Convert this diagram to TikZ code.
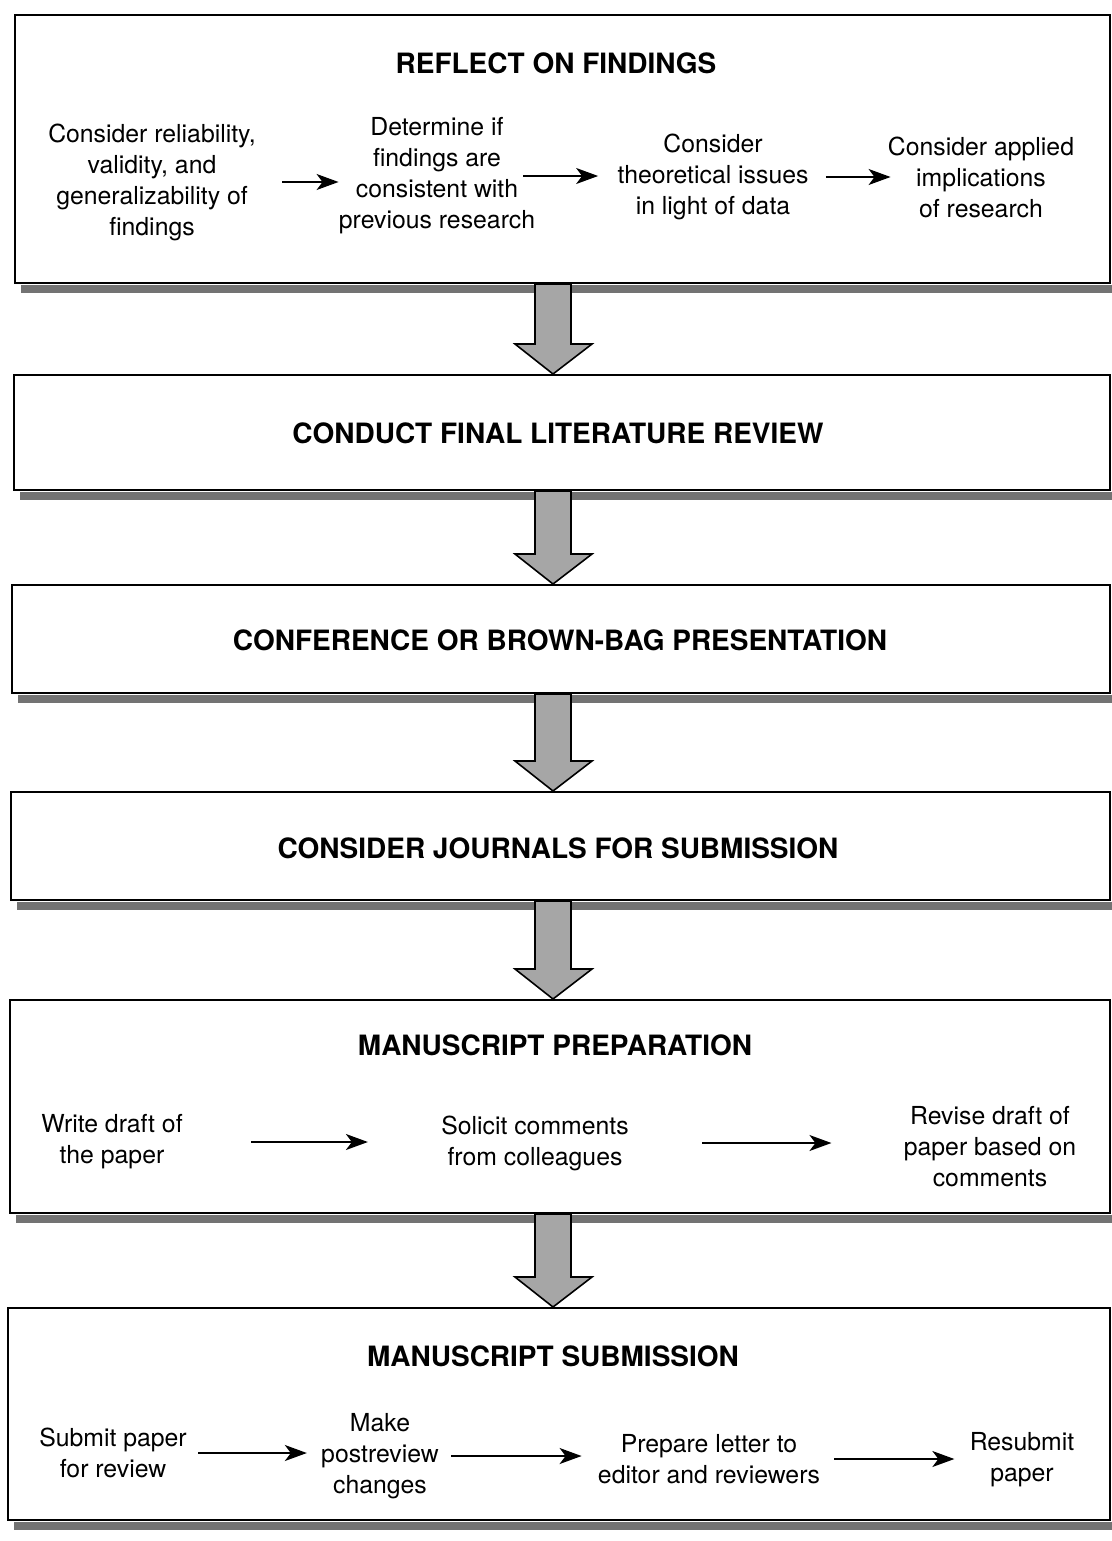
\documentclass[tikz,border=0pt]{standalone}
\usepackage{fontspec}
\setmainfont{TeX Gyre Heros}
\usetikzlibrary{arrows.meta,calc,fit}

\tikzset{
  stagebox/.style={draw, line width=1pt, inner sep=0pt},
  stagetitle/.style={font=\fontsize{14}{17}\selectfont\bfseries},
  task/.style={align=center, inner sep=0pt, font=\fontsize{12.4}{15.5}\selectfont},
  flow/.style={-{Stealth[length=11pt,width=8pt,inset=3pt]}, line width=0.8pt},
  bigarrow/.style={draw, line width=0.8pt, fill=black!35, line join=miter},
  shadowbar/.style={fill=black!55},
}

\begin{document}
\begin{tikzpicture}[x=0.5pt, y=-0.5pt]
    \useasboundingbox (0,0) rectangle (1112,1541);

    % stage boxes
    \node[stagebox, fit={(15,15) (1110,283)}] (b1) {};
    \node[stagebox, fit={(14,375) (1110,490)}] (b2) {};
    \node[stagebox, fit={(12,585) (1110,693)}] (b3) {};
    \node[stagebox, fit={(11,792) (1110,900)}] (b4) {};
    \node[stagebox, fit={(10,1000) (1110,1213)}] (b5) {};
    \node[stagebox, fit={(8,1308) (1110,1520)}] (b6) {};

    \foreach \b in {b1,b2,b3,b4,b5,b6}
        \fill[shadowbar] ($(\b.south west)+(7,1)$) rectangle ($(\b.south east)+(3,9)$);

    % block arrows between the stages
    \foreach \a/\b in {b1/b2,b2/b3,b3/b4,b4/b5,b5/b6}
        \draw[bigarrow] (\a.south -| 535,0) -- ($(\b.north -| 535,0)+(0,-30)$) -- ++(-20,0)
            -- (\b.north -| 553,0) -- ($(\b.north -| 592,0)+(0,-30)$) -- ++(-21,0)
            -- (\a.south -| 571,0) -- cycle;

    % titles
    \node[stagetitle] (h1) at (556,63) {REFLECT ON FINDINGS};
    \node[stagetitle] (h2) at (558,433) {CONDUCT FINAL LITERATURE REVIEW};
    \node[stagetitle] (h3) at (560,640) {CONFERENCE OR BROWN-BAG PRESENTATION};
    \node[stagetitle] (h4) at (558,848) {CONSIDER JOURNALS FOR SUBMISSION};
    \node[stagetitle] (h5) at (555,1045) {MANUSCRIPT PREPARATION};
    \node[stagetitle] (h6) at (553,1356) {MANUSCRIPT SUBMISSION};

    % reflect on findings
    \node[task] (r1) at (152,182) {Consider reliability,\\validity, and\\generalizability of\\findings};
    \node[task] (r2) at (437,176) {Determine if\\findings are\\consistent with\\previous research};
    \node[task] (r3) at (713,177) {Consider\\theoretical issues\\in light of data};
    \node[task] (r4) at (981,177) {Consider applied\\implications\\of research};
    \draw[flow, shorten <=13pt] (r1.east) -- (r1.east -| r2.west);
    \draw[flow, shorten <=-6pt, shorten >=9.5pt] (r2.east) -- (r2.east -| r3.west);
    \draw[flow, shorten <=8.5pt, shorten >=-1.5pt] (r3.east) -- (r3.east -| r4.west);

    % manuscript preparation
    \node[task] (p1) at (112,1142) {Write draft of\\the paper};
    \node[task] (p2) at (535,1143) {Solicit comments\\from colleagues};
    \node[task] (p3) at (990,1147) {Revise draft of\\paper based on\\comments};
    \draw[flow, shorten <=34pt, shorten >=36.5pt] (p1.east) -- (p1.east -| p2.west);
    \draw[flow, shorten <=36.5pt, shorten >=36pt] (p2.east) -- (p2.east -| p3.west);

    % manuscript submission
    \node[task] (s1) at (113,1453) {Submit paper\\for review};
    \node[task] (s2) at (380,1456) {Make\\postreview\\changes};
    \node[task] (s3) at (709,1459) {Prepare letter to\\editor and reviewers};
    \node[task] (s4) at (1022,1460) {Resubmit\\paper};
    \draw[flow, shorten <=5.5pt, shorten >=7pt] (s1.east) -- (s1.east -| s2.west);
    \draw[flow, shorten <=6pt, shorten >=8pt] (s2.east) -- (s2.east -| s3.west);
    \draw[flow, shorten <=7pt, shorten >=7.5pt] (s3.east) -- (s3.east -| s4.west);
\end{tikzpicture}
\end{document}
